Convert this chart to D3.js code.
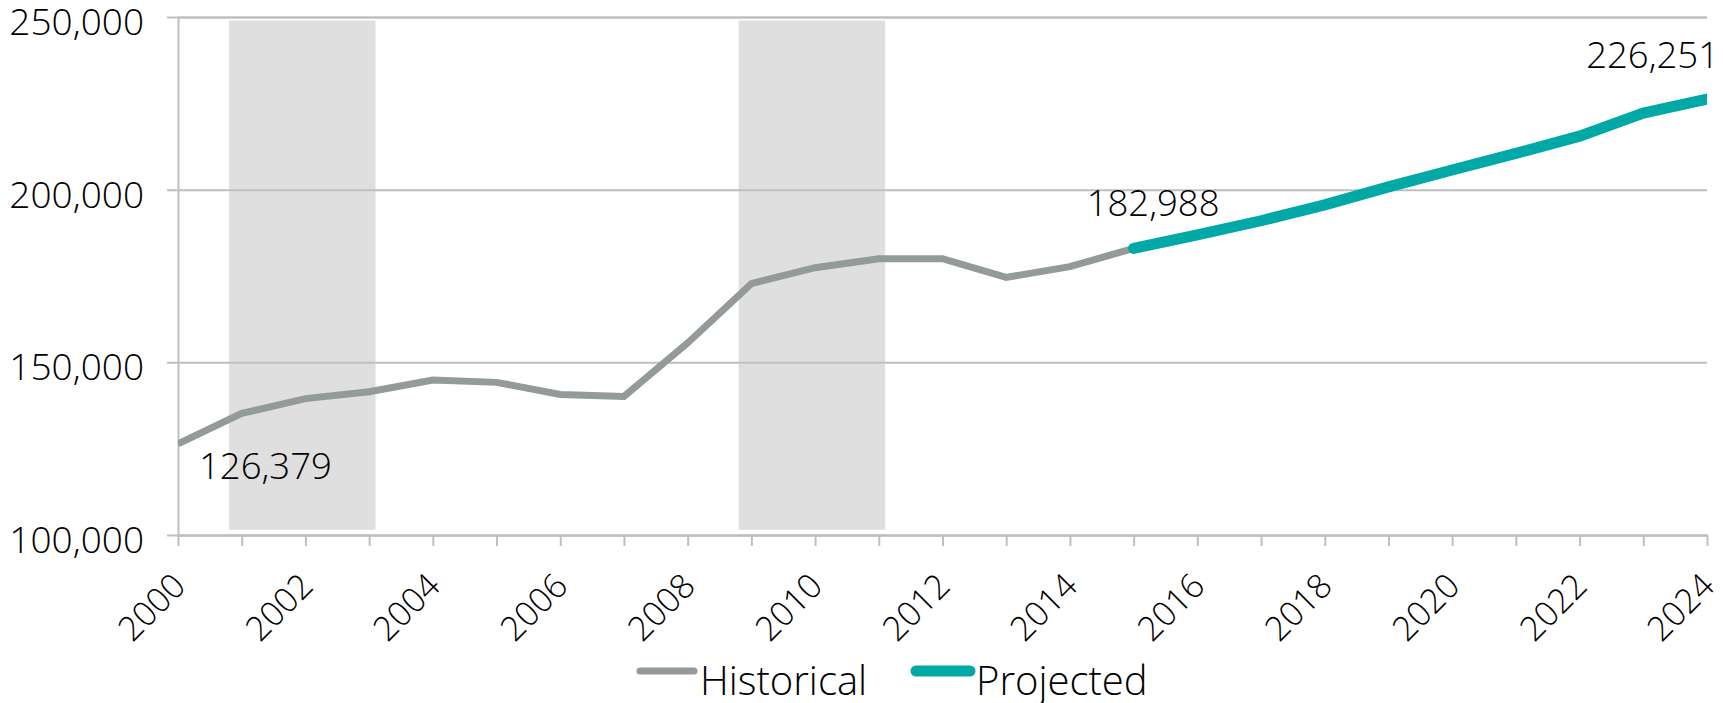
<!DOCTYPE html>
<html>
<head>
<meta charset="utf-8">
<script src="https://cdn.jsdelivr.net/npm/d3@7"></script>
<style>
  body { margin: 0; background: #fff; }
  text { font-family: "Open Sans", sans-serif; font-weight: 300; fill: #000; }
</style>
</head>
<body>
<div id="chart"></div>
<script>
// data
const histYears = [2000, 2001, 2002, 2003, 2004, 2005, 2006, 2007, 2008, 2009, 2010, 2011, 2012, 2013, 2014, 2015];
const histValues = [126379, 135200, 139500, 141500, 144900, 144200, 140700, 140100, 155600, 172800, 177400, 180000, 180000, 174600, 177700, 182988];
const projYears = [2015, 2016, 2017, 2018, 2019, 2020, 2021, 2022, 2023, 2024];
const projValues = [182988, 186900, 191000, 195600, 200800, 205700, 210500, 215500, 222200, 226251];
const bandStarts = [2000.8, 2008.8];
const bandEnds = [2003.1, 2011.1];
const bandTop = 249000;
const bandBottom = 101500;
const yTicks = [100000, 150000, 200000, 250000];
const seriesNames = ["Historical", "Projected"];

const svgWidth = 1723;
const svgHeight = 703;

const svg = d3.select("#chart")
  .append("svg")
  .attr("width", svgWidth)
  .attr("height", svgHeight);

const plotLeft = 178, plotRight = 1707, plotTop = 17, plotBottom = 535;

const xScale = d3.scaleLinear().domain([2000, 2024]).range([plotLeft, plotRight]);
const yScale = d3.scaleLinear().domain([100000, 250000]).range([plotBottom, plotTop]);

// shaded bands
const bands = bandStarts.map((s, i) => ({ start: s, end: bandEnds[i] }));
svg.selectAll(".band")
  .data(bands)
  .enter()
  .append("rect")
  .attr("x", d => xScale(d.start))
  .attr("width", d => xScale(d.end) - xScale(d.start))
  .attr("y", yScale(bandTop))
  .attr("height", yScale(bandBottom) - yScale(bandTop))
  .attr("fill", "#dfdfdf");

// y axis with gridlines
const yAxis = d3.axisLeft(yScale)
  .tickValues(yTicks)
  .tickSize(-(plotRight - plotLeft))
  .tickPadding(34)
  .tickFormat(d3.format(","));

const yG = svg.append("g")
  .attr("transform", `translate(${plotLeft},0)`)
  .call(yAxis);
yG.select(".domain").attr("stroke", "#bfbfbf").attr("stroke-width", 2);
yG.selectAll(".tick line").attr("x1", -11).attr("stroke", "#bfbfbf").attr("stroke-width", 2);
yG.selectAll(".tick text")
  .attr("font-size", 37)
  .attr("dy", "0.47em")
  .attr("fill", "#000");

// x axis
const allYears = d3.range(2000, 2025);
const xAxis = d3.axisBottom(xScale)
  .tickValues(allYears)
  .tickSize(11)
  .tickSizeOuter(0)
  .tickFormat(d => d % 2 === 0 ? d : "");

const xG = svg.append("g")
  .attr("transform", `translate(0,${plotBottom})`)
  .call(xAxis);
xG.select(".domain").attr("stroke", "#bfbfbf").attr("stroke-width", 2);
xG.selectAll(".tick line").attr("stroke", "#bfbfbf").attr("stroke-width", 2);
xG.selectAll(".tick text")
  .attr("font-size", 34)
  .attr("y", null)
  .attr("dy", null)
  .attr("text-anchor", "end")
  .attr("fill", "#000")
  .attr("transform", "translate(9,53) rotate(-45)");

svg.selectAll(".domain").attr("fill", "none");

// clip for lines
svg.append("clipPath").attr("id", "plot")
  .append("rect")
  .attr("x", plotLeft).attr("y", 0)
  .attr("width", plotRight - plotLeft).attr("height", svgHeight);

const line = d3.line()
  .x(d => xScale(d[0]))
  .y(d => yScale(d[1]));

svg.append("path")
  .datum(histYears.map((y, i) => [y, histValues[i]]))
  .attr("clip-path", "url(#plot)")
  .attr("d", line)
  .attr("fill", "none")
  .attr("stroke", "#939a97")
  .attr("stroke-width", 7);

svg.append("path")
  .datum(projYears.map((y, i) => [y, projValues[i]]))
  .attr("clip-path", "url(#plot)")
  .attr("d", line)
  .attr("fill", "none")
  .attr("stroke", "#00a9a6")
  .attr("stroke-width", 11)
  .attr("stroke-linecap", "round");

// data labels
const labels = [
  { year: histYears[0], value: histValues[0], dx: 21, dy: 35, anchor: "start" },
  { year: histYears[histYears.length - 1], value: histValues[histValues.length - 1], dx: -47, dy: -32, anchor: "start" },
  { year: projYears[projYears.length - 1], value: projValues[projValues.length - 1], dx: 12, dy: -31, anchor: "end" }
];
svg.selectAll(".dlabel")
  .data(labels)
  .enter()
  .append("text")
  .attr("x", d => xScale(d.year) + d.dx)
  .attr("y", d => yScale(d.value) + d.dy)
  .attr("text-anchor", d => d.anchor)
  .attr("font-size", 36.5)
  .text(d => d3.format(",")(d.value));

// legend
const legend = svg.append("g");
const legendItems = [
  { name: seriesNames[0], color: "#939a97", width: 7, x: 637 },
  { name: seriesNames[1], color: "#00a9a6", width: 11, x: 913 }
];
legend.selectAll("line")
  .data(legendItems)
  .enter()
  .append("line")
  .attr("x1", d => d.x + 3)
  .attr("x2", d => d.x + 57)
  .attr("y1", 671)
  .attr("y2", 671)
  .attr("stroke", d => d.color)
  .attr("stroke-width", d => d.width)
  .attr("stroke-linecap", "round");
legend.selectAll("text")
  .data(legendItems)
  .enter()
  .append("text")
  .attr("x", d => d.x + 63)
  .attr("y", 695)
  .attr("font-size", 40)
  .text(d => d.name);
</script>
</body>
</html>
